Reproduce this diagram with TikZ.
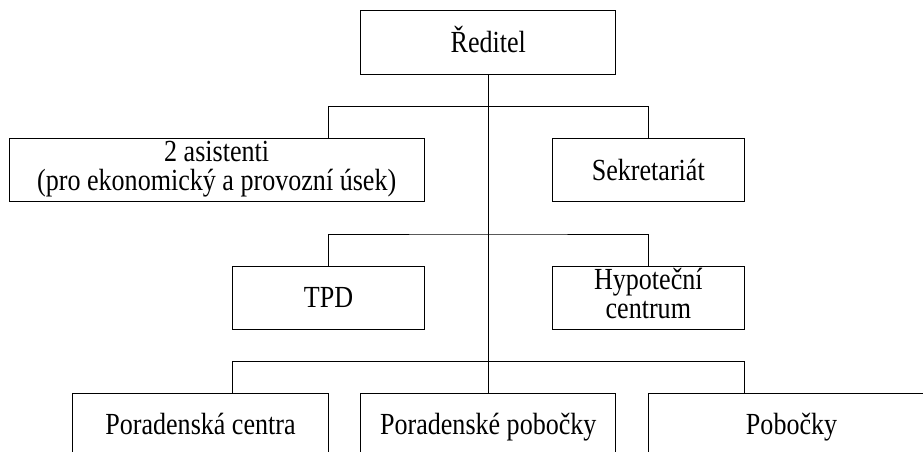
\documentclass[tikz,border=0pt]{standalone}
\usepackage{fontspec}
\setmainfont[FakeStretch=0.85]{Liberation Serif}
\begin{document}
\begin{tikzpicture}[x=0.75pt, y=-0.75pt, line width=0.75pt,
	box/.style={draw, inner sep=0pt, align=center, minimum height=47.5pt,
		font=\fontsize{23}{21.75}\selectfont},
	oneline/.style={box, text height=16.6pt, text depth=1.4pt}]
	
	\useasboundingbox (0,0) rectangle (923,452);
	\clip (0,0) rectangle (923,452);
	
	\node[oneline, minimum width=191.5pt] (reditel) at (488.3,42.5) {Ředitel};
	\node[box, minimum width=311pt] (asistenti) at (216.7,170) {2 asistenti\\(pro ekonomický a provozní úsek)\strut};
	\node[oneline, minimum width=144pt] (sekretariat) at (648.3,170) {Sekretariát};
	\node[oneline, minimum width=143.7pt] (tpd) at (328.5,297.7) {TPD};
	\node[box, minimum width=144pt] (hypo) at (648.3,297.7) {Hypoteční\\centrum\strut};
	\node[oneline, minimum width=191.7pt] (pcentra) at (200.5,424.7) {Poradenská centra};
	\node[oneline, minimum width=191.5pt] (ppobocky) at (488.3,424.7) {Poradenské pobočky};
	\node[oneline, minimum width=215pt] (pobocky) at (791.6,424.7) {Pobočky};
	
	\coordinate (b1) at (488.3,106.7);
	\coordinate (b2) at (488.3,234);
	\coordinate (b3) at (488.3,361.7);
	
	\draw (reditel.south) -- (ppobocky.north);
	\draw (tpd.north |- asistenti.north) |- (b1) -| (sekretariat.north);
	\draw (tpd.north) |- (b2) -| (hypo.north);
	\draw (pcentra.north -| tpd.west) |- (b3) -| (pobocky.north -| hypo.east);
\end{tikzpicture}
\end{document}
